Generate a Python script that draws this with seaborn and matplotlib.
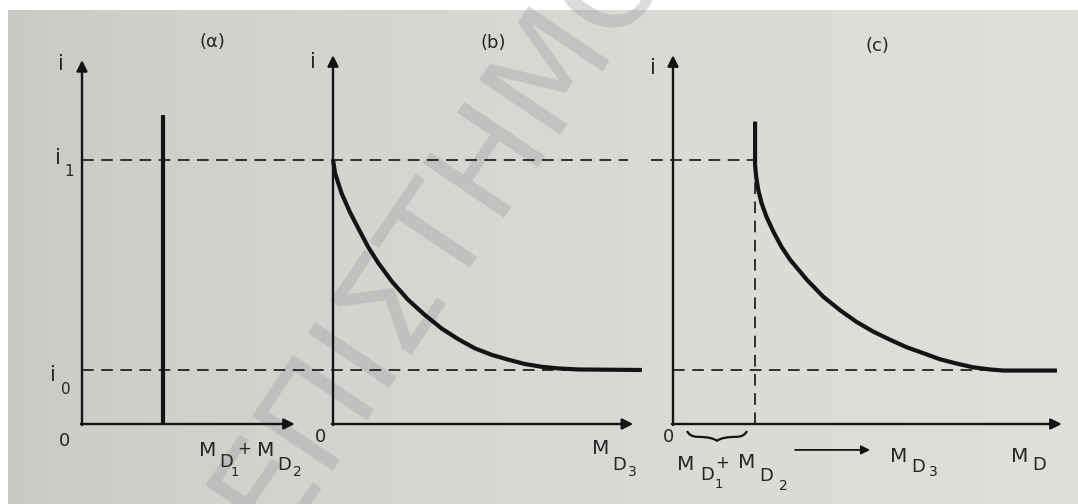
import numpy as np
import pandas as pd
import matplotlib
matplotlib.use("Agg")
import matplotlib.pyplot as plt
from matplotlib.path import Path
from matplotlib.patches import PathPatch
import seaborn as sns

sns.set_theme(style="white")
plt.rcParams['font.family'] = ['DejaVu Sans']
plt.rcParams['mathtext.fontset'] = 'dejavusans'

# ---------------- data (schematic units) ----------------
i0 = 1.0          # residual current level
i1 = 4.89         # initial current level
# panel (a): single pulse
a_pulse_x = [1.5, 1.5]
a_pulse_i = [0.0, 5.72]
# panel (b): decay of i with M_D3
b_md = [0.0, 0.04, 0.16, 0.31, 0.47, 0.65, 0.84, 1.09, 1.39, 1.70, 2.01, 2.32,
        2.63, 2.94, 3.25, 3.56, 3.86, 4.17, 4.54, 5.72]
b_i = [4.89, 4.64, 4.27, 3.93, 3.62, 3.28, 2.98, 2.64, 2.30, 2.02, 1.77, 1.57,
       1.40, 1.28, 1.19, 1.11, 1.06, 1.03, 1.01, 1.0]
# panel (c): pulse followed by decay
c_md = [1.52, 1.52, 1.54, 1.58, 1.64, 1.73, 1.86, 2.01, 2.17, 2.48, 2.78, 3.09,
        3.40, 3.71, 4.02, 4.33, 4.64, 4.94, 5.25, 5.56, 5.87, 6.12, 7.11]
c_i = [5.60, 4.80, 4.58, 4.33, 4.09, 3.84, 3.56, 3.28, 3.04, 2.67, 2.36, 2.11,
       1.89, 1.71, 1.56, 1.42, 1.31, 1.20, 1.12, 1.05, 1.01, 0.99, 0.99]
c_shift = 1.52    # M_D1 + M_D2 in panel (c)

# axis extents
a_xmax, a_ymax = 3.94, 6.74
b_xmax, b_ymax = 5.56, 6.83
c_xmax, c_ymax = 7.20, 6.83

W, H = 1078, 504
U = 54.0  # pixels per data unit
fig = plt.figure(figsize=(W / 100, H / 100), dpi=100)

# paper background
bg = fig.add_axes([0, 0, 1, 1], zorder=-10)
gx = np.linspace(0, 1, 300)
r = 0.775 + 0.10 * np.sqrt(gx)
img = np.dstack([r, r, r - 0.012])[0]
img = np.repeat(img[None, :, :], 2, axis=0)
bg.imshow(img, extent=[0, W, H, 0], aspect='auto')
bg.add_patch(plt.Rectangle((0, 0), W, 10, color='white', lw=0))
bg.add_patch(plt.Rectangle((0, 0), 8, H, color='white', lw=0))
bg.set_xlim(0, W)
bg.set_ylim(H, 0)
bg.axis('off')
# watermark (runs diagonally from lower left, clipped by the page)
bg.text(244, 519, "ΕΠΙΣΤΗΜΟΝΙΚΟ", rotation=56, fontsize=96, color='#a0a0a0',
        alpha=0.38, ha='left', va='center', rotation_mode='anchor', clip_on=True)


def panel_axes(ox, oy=424):
    ax = fig.add_axes([0, 0, 1, 1])
    ax.set_xlim((0 - ox) / U, (W - ox) / U)
    ax.set_ylim((oy - H) / U, oy / U)
    ax.patch.set_visible(False)
    ax.axis('off')
    return ax


LW_AX = 1.7
INK = '#141414'
TXT = '#262626'
DASH = (0, (7, 4.5))


def draw_axes(ax, xmax, ymax):
    ap = dict(arrowstyle='-|>', lw=LW_AX, color=INK, mutation_scale=16,
              shrinkA=0, shrinkB=0)
    ax.annotate('', xy=(xmax, 0), xytext=(-0.02, 0), arrowprops=ap)
    ax.annotate('', xy=(0, ymax), xytext=(0, -0.02), arrowprops=ap)


axa = panel_axes(82)
axb = panel_axes(333)
axc = panel_axes(673)

draw_axes(axa, a_xmax, a_ymax)
draw_axes(axb, b_xmax, b_ymax)
draw_axes(axc, c_xmax, c_ymax)

# dashed reference levels
axa.plot([0, 10.11], [i1, i1], ls=DASH, lw=1.2, color=INK)
axa.plot([0, 9.05], [i0, i0], ls=DASH, lw=1.2, color=INK)
axc.plot([-0.41, c_shift], [i1, i1], ls=DASH, lw=1.2, color=INK)
axc.plot([0, 6.0], [i0, i0], ls=DASH, lw=1.2, color=INK)
axc.plot([c_shift, c_shift], [0, i1], ls=DASH, lw=1.2, color=INK)

# curves
da = pd.DataFrame({'M': a_pulse_x, 'i': a_pulse_i})
db = pd.DataFrame({'M': b_md, 'i': b_i})
dc = pd.DataFrame({'M': c_md, 'i': c_i})
kw = dict(color=INK, lw=3.0, sort=False, estimator=None)
sns.lineplot(data=da, x='M', y='i', ax=axa, **kw)
sns.lineplot(data=db, x='M', y='i', ax=axb, **kw)
sns.lineplot(data=dc, x='M', y='i', ax=axc, **kw)
for ax in (axa, axb, axc):
    for ln in ax.lines:
        ln.set_solid_joinstyle('round')
        ln.set_solid_capstyle('butt')
    ax.axis('off')


def ftxt(x, y, s, size=13, **kw):
    fig.text(x / W, 1 - y / H, s, fontsize=size, color=TXT, ha='center', va='center', **kw)


def pieces(items):
    for (x, y, s, size) in items:
        ftxt(x, y, s, size)


# titles
ftxt(212, 42, "(α)", 13)
ftxt(493, 43, "(b)", 13)
ftxt(877, 46, "(c)", 13)
# y labels
ftxt(61, 64, "i", 15)
ftxt(313, 62, "i", 15)
ftxt(653, 68, "i", 15)
pieces([(58, 158, "i", 15), (69, 172, "1", 11)])
pieces([(53, 375, "i", 15), (66, 389, "0", 11)])
# origins
ftxt(65, 441, "0", 13)
ftxt(320, 437, "0", 13)
ftxt(668, 437, "0", 13)
# x labels
pieces([(208, 450, "M", 14.5), (226, 462, "D", 13), (235, 473, "1", 9.5),
        (244, 449, "+", 12), (266, 450, "M", 14.5), (284, 465, "D", 13), (297, 472, "2", 10)])
pieces([(601, 448, "M", 14.5), (619, 465, "D", 13), (632, 472, "3", 10)])
pieces([(686, 465, "M", 14.5), (707, 475, "D", 13), (719, 485, "1", 9.5),
        (722, 463, "+", 12), (747, 463, "M", 14.5), (766, 476, "D", 13), (783, 486, "2", 10)])
pieces([(899, 456, "M", 14.5), (918, 467, "D", 13), (933, 472, "3", 10)])
pieces([(1020, 457, "M", 14.5), (1039, 465, "D", 13)])

# arrow between labels in (c)
axc.annotate('', xy=(3.65, -0.48), xytext=(2.26, -0.48),
             arrowprops=dict(arrowstyle='-|>', lw=1.3, color=INK, mutation_scale=13,
                             shrinkA=0, shrinkB=0))

# curly brace under M_D1 + M_D2 in (c)
x0, x1, y0, h = 0.26, 1.37, -0.13, 0.18
xm = (x0 + x1) / 2
verts = [(x0, y0), (x0 + 0.05, y0 - h * 0.6), (x0 + 0.2, y0 - h * 0.6),
         (xm - 0.1, y0 - h * 0.6), (xm, y0 - h),
         (xm + 0.1, y0 - h * 0.6), (x1 - 0.2, y0 - h * 0.6),
         (x1 - 0.05, y0 - h * 0.6), (x1, y0)]
codes = [Path.MOVETO, Path.CURVE3, Path.CURVE3, Path.CURVE3, Path.CURVE3,
         Path.CURVE3, Path.CURVE3, Path.CURVE3, Path.CURVE3]
axc.add_patch(PathPatch(Path(verts, codes), fill=False, lw=1.6, color=INK, clip_on=False))

fig.savefig("out.png", dpi=100)
